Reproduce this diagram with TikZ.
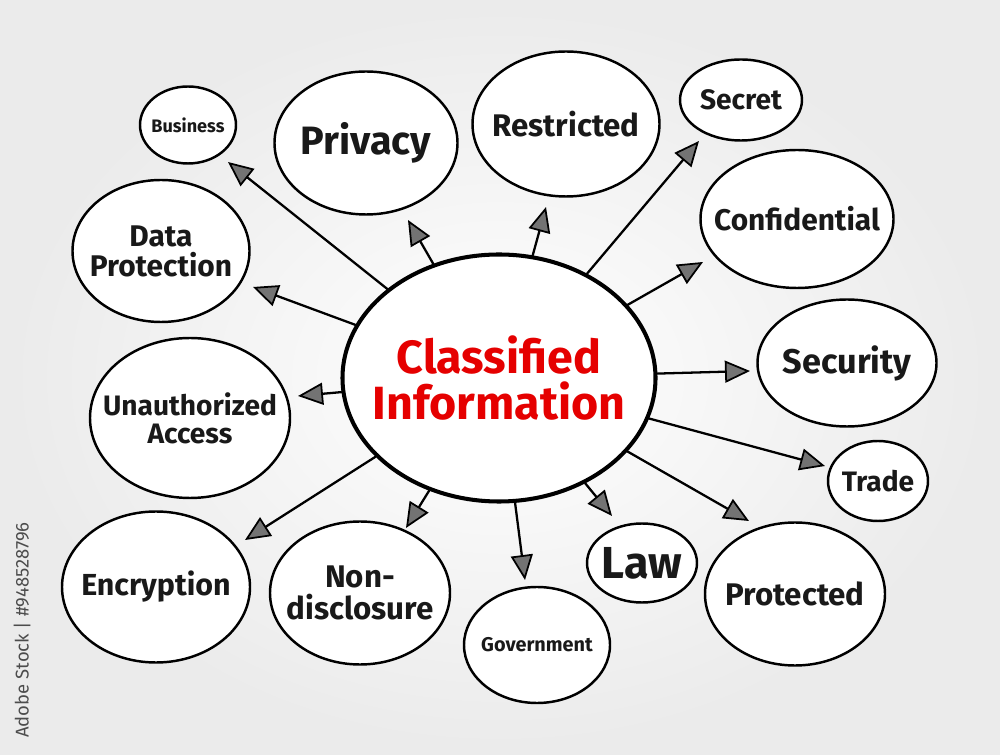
\documentclass[tikz,border=0pt]{standalone}
\usepackage{fontspec}
\setmainfont{Fira Sans}
\usetikzlibrary{shapes.geometric,arrows.meta}
\tikzset{
  bubble/.style={draw, ellipse, line width=1.4pt, fill=white, inner sep=0pt},
  word/.style={align=center, text=black!90, inner sep=0pt},
  arr/.style={line width=1.3pt, -{Triangle[length=5mm, width=4.4mm, fill=black!55, line width=1pt]}},
}
\newcommand{\fs}[1]{\fontsize{#1}{#1}\selectfont\bfseries}
\begin{document}
\begin{tikzpicture}[x=0.2mm, y=-0.2mm, line join=round, line cap=round]
  % Nen xam nhat
  \shade[inner color=white, outer color=black!8] (0,0) rectangle (1000,755);
  \useasboundingbox (0,0) rectangle (1000,755);
  % Dinh nghia cac dau mui ten
  \path
  (228,162) coordinate (tBusiness)
  (408,220) coordinate (tPrivacy)
  (546,207) coordinate (tRestricted)
  (699,141) coordinate (tSecret)
  (703,262) coordinate (tConfidential)
  (253,287) coordinate (tData)
  (750,371) coordinate (tSecurity)
  (298,396) coordinate (tAccess)
  (825,466) coordinate (tTrade)
  (245,540) coordinate (tEncryption)
  (406,528) coordinate (tNondisclosure)
  (525,580) coordinate (tGovernment)
  (612,516) coordinate (tLaw)
  (749,521) coordinate (tProtected);
  % Hinh elip o giua
  \node[bubble, line width=2.3pt, minimum width=62.6mm, minimum height=49.4mm,
    label={[word, text=red!90!black, font=\fs{26.5}]center:{Classified\\Information}}] (ci) at (499,378) {};
  % Cac bong xung quanh
  \node[bubble, minimum width=19.2mm, minimum height=15.4mm, label={[word, font=\fs{10.3}]center:Business}] (business) at (188,125) {};
  \node[bubble, minimum width=36.6mm, minimum height=28.6mm, label={[word, font=\fs{22.5}]center:Privacy}] (privacy) at (366,143) {};
  \node[bubble, minimum width=37.4mm, minimum height=29mm, label={[word, font=\fs{17.8}]center:Restricted}] (restricted) at (566,124) {};
  \node[bubble, minimum width=24.4mm, minimum height=16.2mm, label={[word, font=\fs{16}]center:Secret}] (secret) at (741,100) {};
  \node[bubble, minimum width=38.6mm, minimum height=27.6mm, label={[word, font=\fs{17}]center:Confidential}] (confidential) at (797,219) {};
  \node[bubble, minimum width=35.4mm, minimum height=28.4mm, label={[word, font=\fs{17}]center:{Data\\Protection}}] (data) at (161,251) {};
  \node[bubble, minimum width=35.8mm, minimum height=25.4mm, label={[word, font=\fs{19.5}]center:Security}] (security) at (847,363) {};
  \node[bubble, minimum width=40mm, minimum height=32mm, label={[word, font=\fs{16}]center:{Unauthorized\\Access}}] (access) at (190,418) {};
  \node[bubble, minimum width=20mm, minimum height=16mm, label={[word, font=\fs{16}]center:Trade}] (trade) at (878,481) {};
  \node[bubble, minimum width=37.6mm, minimum height=30.2mm, label={[word, font=\fs{17.3}]center:Encryption}] (encryption) at (156,587) {};
  \node[bubble, minimum width=36mm, minimum height=28.6mm, label={[word, font=\fs{17.8}]center:{Non-\\disclosure}}] (nondisclosure) at (360,593) {};
  \node[bubble, minimum width=29.2mm, minimum height=23.2mm, label={[word, font=\fs{11.3}]center:Government}] (government) at (537,645) {};
  \node[bubble, minimum width=22mm, minimum height=15.8mm, label={[word, font=\fs{25.5}]center:Law}] (law) at (642,563) {};
  \node[bubble, minimum width=36mm, minimum height=28.6mm, label={[word, font=\fs{17.8}]center:Protected}] (protected) at (795,594) {};
  % Mui ten tu elip giua
  \foreach \t in {tBusiness,tPrivacy,tRestricted,tSecret,tConfidential,tData,tSecurity,tAccess,tTrade,tEncryption,tNondisclosure,tGovernment,tLaw,tProtected}
  \draw[arr] (ci) -- (\t);
  % Chu doc ben trai
  \node[rotate=90, text=black!70, font=\fontsize{10.5}{10.5}\selectfont] (stock) at (22,630) {Adobe Stock | \#948528796};
\end{tikzpicture}
\end{document}
